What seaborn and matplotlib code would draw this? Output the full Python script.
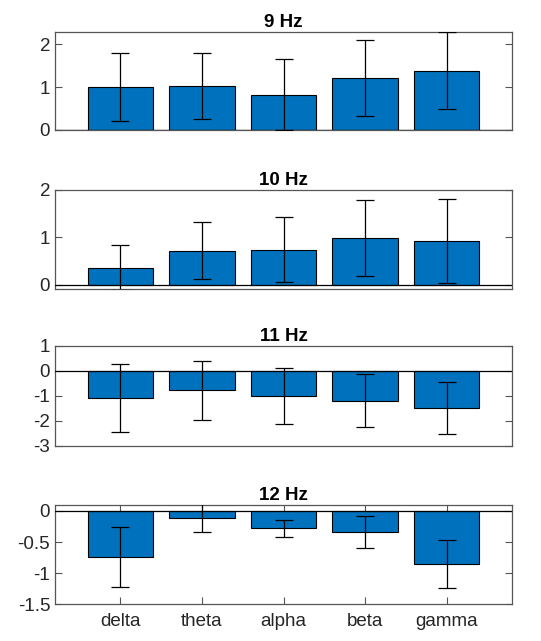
import numpy as np
import pandas as pd
import matplotlib
matplotlib.use("Agg")
import matplotlib.pyplot as plt
import seaborn as sns

bands = ["delta", "theta", "alpha", "beta", "gamma"]
freqs = ["9 Hz", "10 Hz", "11 Hz", "12 Hz"]

mean_9 = [1.00, 1.03, 0.82, 1.21, 1.38]
err_9 = [0.80, 0.77, 0.83, 0.89, 0.90]
mean_10 = [0.36, 0.72, 0.74, 0.98, 0.92]
err_10 = [0.48, 0.60, 0.69, 0.80, 0.88]
mean_11 = [-1.10, -0.79, -1.02, -1.21, -1.50]
err_11 = [1.35, 1.17, 1.12, 1.06, 1.05]
mean_12 = [-0.74, -0.11, -0.28, -0.34, -0.85]
err_12 = [0.48, 0.23, 0.14, 0.25, 0.39]

means = [mean_9, mean_10, mean_11, mean_12]
errs = [err_9, err_10, err_11, err_12]
ylims = [(0, 2.28), (-0.1, 2.0), (-3, 1), (-1.5, 0.1)]
yticks = [[0, 1, 2], [0, 1, 2], [-3, -2, -1, 0, 1], [-1.5, -1, -0.5, 0]]
yticklabels = [["0", "1", "2"], ["0", "1", "2"],
               ["-3", "-2", "-1", "0", "1"], ["-1.5", "-1", "-0.5", "0"]]

sns.set_style("white")
plt.rcParams["font.family"] = ["Liberation Sans", "DejaVu Sans"]
plt.rcParams["axes.unicode_minus"] = False

frame = "#555555"
text_c = "#262626"
bar_c = "#0072BD"

fig = plt.figure(figsize=(5.41, 6.41), dpi=100)
boxes = [
    (0.1017, 0.7972, 0.8447, 0.1529),
    (0.1017, 0.5487, 0.8447, 0.1549),
    (0.1017, 0.3047, 0.8447, 0.1560),
    (0.1017, 0.0573, 0.8447, 0.1554),
]

for i, (box, title) in enumerate(zip(boxes, freqs)):
    ax = fig.add_axes(box)
    df = pd.DataFrame({"band": bands, "value": means[i]})
    sns.barplot(data=df, x="band", y="value", order=bands, color=bar_c,
                saturation=1, width=0.8, edgecolor="black", linewidth=0.8,
                errorbar=None, ax=ax)
    ax.errorbar(np.arange(len(bands)), means[i], yerr=errs[i], fmt="none",
                ecolor="black", elinewidth=0.9, capsize=6.5, capthick=0.9,
                zorder=5, clip_on=True)
    ax.axhline(0, color="black", linewidth=0.9, zorder=4)
    ax.set_xlim(-0.8, 4.8)
    ax.set_ylim(*ylims[i])
    ax.set_yticks(yticks[i])
    ax.set_yticklabels(yticklabels[i])
    ax.set_xlabel("")
    ax.set_ylabel("")
    ax.set_title(title, fontsize=13.5, fontweight="bold", color="black", pad=3.5)
    for s in ax.spines.values():
        s.set_visible(True)
        s.set_color(frame)
        s.set_linewidth(0.9)
    ax.tick_params(axis="y", direction="in", left=True, right=True,
                   length=5, width=0.8, color=frame, labelsize=13.5,
                   labelcolor=text_c, pad=3.5)
    if i == 3:
        ax.set_xticks(range(len(bands)))
        ax.set_xticklabels(bands)
        ax.tick_params(axis="x", direction="in", bottom=True, top=True,
                       length=5, width=0.8, color=frame, labelsize=13.5,
                       labelcolor=text_c, pad=6)
    else:
        ax.set_xticks([])

fig.savefig("out.png", dpi=100)
